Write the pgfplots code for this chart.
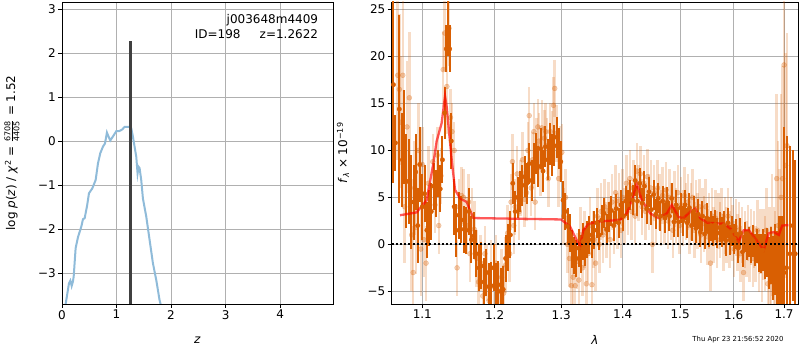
\documentclass[border=0pt]{standalone}
\usepackage{fontspec}
\setmainfont{DejaVu Sans}
\usepackage{amsmath}
\usepackage{pgfplots}
\usepackage{pgfplotstable}
\pgfplotsset{compat=1.18}
\definecolor{dorange}{RGB}{217,95,2}
\definecolor{pzblue}{RGB}{143,187,217}
\definecolor{gridgray}{RGB}{176,176,176}
\definecolor{vline}{RGB}{64,64,64}

\pgfplotstableread{
z y
0.050 -3.85
0.067 -3.70
0.128 -3.23
0.153 -3.17
0.177 -3.29
0.200 -3.19
0.214 -3.08
0.250 -2.43
0.293 -2.18
0.354 -1.94
0.385 -1.77
0.415 -1.75
0.458 -1.48
0.495 -1.18
0.556 -1.07
0.617 -0.88
0.660 -0.50
0.702 -0.27
0.751 -0.12
0.788 -0.05
0.824 0.20
0.843 0.14
0.885 0.02
0.934 0.11
0.995 0.23
1.044 0.23
1.105 0.27
1.148 0.33
1.227 0.33
1.270 0.30
1.300 0.11
1.331 -0.12
1.362 -0.35
1.386 -0.73
1.405 -0.58
1.423 -0.61
1.453 -0.88
1.484 -1.30
1.545 -1.71
1.606 -2.24
1.667 -2.77
1.728 -3.15
1.789 -3.61
1.807 -3.70
1.820 -3.85
}\pzdata

\pgfplotstableread{
x y e
1.0625 17.0 10.5
1.0650 10.8 3
1.0700 14.4 10
1.0740 9.0 5
1.0760 11.4 5
1.0790 6.7 5
1.0821 6.7 4.5
1.0855 4.5 5
1.0890 4.5 4
1.0913 7.7 4
1.0940 2.0 4
1.0966 8.5 4
1.1000 4.0 3.5
1.1030 5.4 3
1.1060 1.5 3
1.1090 2.8 3
1.1120 3.5 3
1.1150 6.2 2.5
1.1180 5.4 2.5
1.1210 7.5 2.5
1.1240 5.9 2.5
1.1270 9.0 2.5
1.1300 14.0 2.8
1.1322 20.8 2.5
1.1345 23.0 3
1.1368 20.8 2.5
1.1390 11.0 3
1.1430 4.0 3
1.1460 1.5 2.8
1.1495 3.1 2.5
1.1530 2.6 2.5
1.1566 1.6 2.5
1.1600 1.5 2.5
1.1635 3.5 2.5
1.1670 0.5 2.5
1.1705 0.9 2.5
1.1740 -1.0 2.5
1.1775 -2.5 2.5
1.1810 -2.3 2.5
1.1845 -4.0 2.5
1.1880 -3.0 2.5
1.1915 -4.5 2.5
1.1950 -4.4 2.5
1.1985 -2.5 2.5
1.2020 -4.5 2.5
1.2055 -4.3 2.5
1.2090 -5.0 2.5
1.2125 -4.8 2.5
1.2160 -1.5 2.5
1.2195 -0.3 2.5
1.2230 1.0 2.5
1.2265 6.5 2.2
1.2300 3.5 2.2
1.2335 5.0 2.2
1.2370 5.6 2.2
1.2405 6.3 2.2
1.2440 7.2 2.2
1.2475 6.5 2.2
1.2510 8.6 2.2
1.2545 6.8 2.2
1.2580 8.6 2.2
1.2615 9.7 2.2
1.2650 8.3 2.2
1.2685 10.2 2.2
1.2720 7.8 2.2
1.2755 10.4 2.2
1.2790 9.0 2.2
1.2825 10.7 2.2
1.2860 9.5 2.2
1.2895 10.5 2.2
1.2930 11.4 2.2
1.2965 10.2 2.2
1.2995 8.8 2.2
1.3030 4.7 2
1.3065 3.5 2
1.3100 1.9 2
1.3135 1.2 2
1.3170 -0.5 2
1.3205 -1.2 2
1.3240 -1.5 2
1.3275 -0.4 2
1.3310 -1.0 2
1.3345 0.3 2
1.3380 -0.3 2
1.3415 0.5 2
1.3450 1.0 2
1.3490 0.5 2
1.3530 1.5 2
1.3570 2.3 1.6
1.3610 1.0 1.6
1.3650 2.6 1.6
1.3690 3.3 1.6
1.3730 1.6 1.6
1.3770 2.9 1.6
1.3810 3.6 1.6
1.3850 2.0 1.6
1.3890 3.8 1.6
1.3930 2.3 1.6
1.3970 4.2 1.6
1.4010 3.0 1.6
1.4050 4.6 1.6
1.4090 4.2 1.6
1.4130 5.3 1.6
1.4170 4.7 1.6
1.4210 6.8 1.6
1.4250 4.6 1.6
1.4290 6.5 1.6
1.4330 4.4 1.6
1.4370 6.2 1.6
1.4410 3.8 1.6
1.4450 5.6 1.6
1.4490 3.7 1.6
1.4530 5.3 1.6
1.4570 3.2 1.6
1.4610 4.9 1.6
1.4650 3.0 1.6
1.4690 4.6 1.6
1.4730 2.8 1.6
1.4770 4.5 1.6
1.4810 3.0 1.6
1.4850 4.9 1.6
1.4890 2.4 1.6
1.4930 4.2 1.6
1.4970 2.4 1.6
1.5010 3.9 1.6
1.5050 2.5 1.6
1.5090 4.2 1.6
1.5130 2.3 1.6
1.5170 3.9 1.6
1.5210 2.0 1.6
1.5250 3.5 1.6
1.5290 1.7 1.6
1.5330 3.2 1.6
1.5370 1.3 1.6
1.5410 3.0 1.6
1.5450 1.1 1.6
1.5490 2.8 1.6
1.5530 1.3 1.6
1.5570 2.0 1.6
1.5610 1.4 1.6
1.5650 2.1 1.6
1.5690 1.2 1.6
1.5730 1.8 1.6
1.5770 1.3 1.6
1.5810 2.0 1.6
1.5850 0.4 1.6
1.5890 2.3 1.6
1.5930 0.5 1.6
1.5970 1.4 1.6
1.6010 0.6 1.6
1.6050 1.1 1.6
1.6090 -0.4 1.6
1.6130 1.2 1.6
1.6170 -0.8 1.6
1.6210 0.8 1.6
1.6250 -0.1 1.6
1.6290 0.3 1.6
1.6330 -0.4 1.6
1.6370 0.4 1.7
1.6410 -0.6 1.7
1.6450 -0.2 1.8
1.6490 -0.9 2
1.6530 -1.0 2.1
1.6570 -0.6 2.2
1.6610 -1.3 2.4
1.6650 -0.9 2.6
1.6690 -2.0 2.8
1.6730 -1.2 3
1.6770 -2.5 3.4
1.6810 -1.6 3.8
1.6850 -3.0 4.4
1.6890 -2.0 5
1.6930 -3.5 6.5
1.6965 -5.0 8
1.7000 -3.0 15.5
1.7050 -2.5 14
1.7120 -1.0 11.5
1.7180 2.0 8
1.7230 -1.0 10
}\darkdata

\pgfplotstableread{
x y e
1.0680 18.0 9
1.0700 16.5 8
1.0720 13.0 7
1.0745 18.0 8
1.0770 4.0 6
1.0800 12.5 7
1.0830 15.6 7
1.0860 1.0 6
1.0880 -3.0 5
1.0900 6.0 5
1.0920 1.8 5
1.0950 10.0 5
1.0980 -0.5 5
1.1000 8.5 4
1.1020 0.5 4
1.1050 -2.0 4
1.1080 6.5 4
1.1110 3.5 3
1.1140 8.8 3
1.1170 4.2 3
1.1200 9.5 3
1.1220 2.0 3
1.1250 7.3 3
1.1280 18.6 4
1.1300 22.5 4
1.1330 16.8 5
1.1360 23.0 4
1.1380 13.5 3
1.1400 12.0 3
1.1430 10.0 3
1.1470 -2.5 3
1.1500 4.0 3
1.1530 5.2 3
1.1560 5.0 3
1.1600 2.0 3
1.1630 4.5 3
1.1650 -1.0 3
1.1680 3.0 3
1.1710 1.6 3
1.1740 -1.5 3
1.1770 -4.0 3
1.1800 -2.0 3
1.1830 -5.5 3
1.1860 -1.0 3
1.1890 -3.0 3
1.1920 -6.0 3
1.1950 -2.5 3
1.1990 -4.5 3
1.2020 -2.0 3
1.2060 -5.0 3
1.2100 -3.5 3
1.2130 -5.2 3
1.2160 -2.2 3
1.2190 1.2 3
1.2220 -1.0 3
1.2240 4.5 3
1.2260 8.8 3
1.2280 2.0 3
1.2300 4.0 3
1.2330 7.5 3
1.2360 3.5 3
1.2380 6.0 3
1.2410 9.0 3
1.2440 4.8 3
1.2470 5.5 3
1.2490 10.0 3
1.2510 13.7 3
1.2540 6.0 3
1.2560 9.0 3
1.2580 12.0 3
1.2600 4.5 3
1.2620 10.5 3
1.2640 12.5 3
1.2660 11.0 3
1.2680 8.2 3
1.2700 12.4 3
1.2720 9.5 3
1.2740 11.3 3
1.2760 12.0 3
1.2780 10.5 3
1.2800 7.0 3
1.2830 12.0 3
1.2860 11.2 3
1.2880 14.8 3
1.2900 16.6 3
1.2930 11.8 3
1.2960 7.0 3
1.2980 9.6 3
1.3010 9.8 3
1.3040 3.0 3
1.3070 5.0 3
1.3100 0.0 3
1.3130 -1.5 3
1.3160 -4.4 3
1.3190 -3.5 3
1.3220 -4.4 3
1.3250 -1.8 3
1.3280 -3.8 3
1.3310 1.0 3
1.3340 -2.5 3
1.3370 0.5 3
1.3400 -4.2 3
1.3430 -1.0 3
1.3460 2.0 3
1.3490 -4.3 3
1.3520 0.5 3
1.3550 -2.0 3
1.3580 3.0 3
1.3610 0.0 3
1.3640 3.5 3
1.3670 1.0 3
1.3700 4.0 3
1.3730 1.5 3
1.3760 3.6 3
1.3790 0.5 3
1.3820 4.5 3
1.3850 2.0 3
1.3880 5.5 3
1.3910 2.5 3
1.3940 4.6 3
1.3970 1.5 3
1.4000 5.0 3
1.4030 3.0 3
1.4060 6.5 3
1.4090 4.0 3
1.4120 7.0 3
1.4150 3.5 3
1.4180 6.0 3
1.4210 3.0 3
1.4240 7.8 3
1.4270 5.5 3
1.4300 7.5 3
1.4330 4.0 3
1.4360 6.5 3
1.4390 3.5 3
1.4420 7.2 3
1.4450 4.5 3
1.4480 6.0 3
1.4510 0.0 3
1.4540 5.5 3
1.4570 3.0 3
1.4600 6.0 3
1.4630 4.5 3
1.4660 2.8 3
1.4690 5.2 3
1.4720 3.0 3
1.4750 5.8 3
1.4780 2.5 3
1.4810 5.0 3
1.4840 3.5 3
1.4870 1.5 3
1.4900 4.8 3
1.4930 3.0 3
1.4960 5.5 3
1.4990 2.0 3
1.5020 4.2 3
1.5050 2.8 3
1.5080 5.2 3
1.5110 3.5 3
1.5140 4.5 3
1.5170 2.0 3
1.5200 3.5 3
1.5230 5.0 3
1.5260 1.5 3
1.5290 3.8 3
1.5320 2.5 3
1.5350 4.0 3
1.5380 1.0 3
1.5410 3.0 3
1.5440 2.2 3
1.5470 4.0 3
1.5500 0.8 3
1.5530 2.5 3
1.5560 -2.0 3
1.5590 3.0 3
1.5620 1.0 3
1.5650 2.8 3
1.5680 0.5 3
1.5710 2.5 3
1.5740 1.5 3
1.5770 3.0 3
1.5800 0.2 3
1.5830 2.0 3
1.5860 1.0 3
1.5890 3.0 3
1.5920 0.5 3
1.5950 2.0 3
1.5980 1.2 3
1.6010 -0.5 3
1.6040 1.8 3
1.6070 0.2 3
1.6100 1.5 3
1.6130 -1.0 3
1.6160 1.0 3
1.6190 -3.0 3
1.6220 0.5 3
1.6250 -0.5 3
1.6280 1.2 3
1.6310 -1.0 3
1.6340 0.8 3
1.6370 -1.5 3
1.6400 0.5 3
1.6430 -1.0 3
1.6460 1.5 3.2
1.6490 -1.8 3.3
1.6520 0.3 3.5
1.6550 -2.5 3.6
1.6580 0.0 3.8
1.6610 -1.0 4
1.6640 1.5 4.5
1.6670 -4.2 5
1.6700 -1.5 5.5
1.6730 -4.0 6
1.6760 1.0 6.5
1.6790 -3.0 7
1.6820 -4.5 8
1.6850 7.0 9
1.6880 2.0 9
1.6910 -2.0 10
1.6940 5.0 11
1.6970 7.0 12
1.7000 19.1 14
1.7030 8.4 12
1.7060 10.5 12
}\lightdata

\pgfplotstableread{
x y
1.0709 3.1
1.0925 3.4
1.1058 4.7
1.1147 8.6
1.1192 11.0
1.1259 12.9
1.1305 15.8
1.1328 14.6
1.1396 9.0
1.1442 5.8
1.1511 4.9
1.1604 4.5
1.1651 3.6
1.1698 2.8
1.2998 2.65
1.3140 1.9
1.3245 0.45
1.3298 -0.25
1.3351 1.5
1.3432 2.15
1.3568 2.4
1.3733 2.5
1.3955 2.6
1.4068 3.3
1.4154 4.7
1.4239 6.5
1.4325 4.7
1.4470 3.3
1.4616 2.8
1.4764 3.3
1.4853 4.2
1.4973 2.9
1.5063 2.8
1.5185 3.5
1.5277 3.8
1.5369 2.8
1.5493 2.3
1.5807 2.2
1.5935 1.7
1.6096 0.3
1.6194 1.5
1.6292 1.5
1.6424 0.6
1.6589 -0.6
1.6689 1.2
1.6791 1.3
1.6892 1.0
1.6961 2.0
1.7089 2.05
}\modeldata

\begin{document}
\begin{tikzpicture}
\path[use as bounding box] (0pt,0pt) rectangle (800pt,350pt);
\pgfplotsset{
  every axis/.append style={
    scale only axis,
    font=\fontsize{12}{14}\selectfont,
    axis line style={line width=0.8pt},
    tick style={black, line width=0.8pt},
    major tick length=4pt,
    tick align=outside,
    xtick pos=bottom, ytick pos=left,
    grid=major,
    major grid style={gridgray, line width=0.8pt},
    xticklabel style={inner sep=2pt},
    yticklabel style={inner sep=2pt},
  }
}
% Left panel
\begin{axis}[
  at={(62pt,46pt)}, anchor=south west,
  width=271pt, height=302pt,
  xmin=0, xmax=4.97, ymin=-3.7, ymax=3.17,
  xtick={0,1,2,3,4}, xticklabels={0,1,2,3,4},
  ytick={-3,-2,-1,0,1,2,3}, yticklabels={−3,−2,−1,0,1,2,3},
  xlabel={\textit{z}},
  xlabel style={at={(axis description cs:0.5,-0.119)}, anchor=center},
  ylabel={log \textit{p}(\textit{z}) / \textit{χ}\textsuperscript{2} = $\frac{\text{6708}}{\text{4405}}$ = 1.52},
  ylabel style={at={(axis description cs:-0.1845,0.5)}, anchor=center, rotate=0},
]
\addplot[pzblue, line width=2pt] table[x=z, y=y] {\pzdata};
\addplot[vline, line width=3pt] coordinates {(1.2622,-3.8) (1.2622,2.29)};
\node[anchor=east, inner sep=0pt] at (axis cs:4.70,2.75) {j003648m4409};
\node[anchor=east, inner sep=0pt] at (axis cs:4.70,2.43) {ID=198\hspace{1.6em}z=1.2622};
\end{axis}
% Right panel
\begin{axis}[
  at={(391.5pt,46pt)}, anchor=south west,
  width=407pt, height=302pt,
  xmode=log,
  xmin=1.06, xmax=1.7297, ymin=-6.35, ymax=25.8,
  xtick={1.1,1.2,1.3,1.4,1.5,1.6,1.7},
  xticklabels={1.1,1.2,1.3,1.4,1.5,1.6,1.7},
  minor xtick={},
  ytick={-5,0,5,10,15,20,25}, yticklabels={−5,0,5,10,15,20,25},
  xlabel={\textit{λ}},
  xlabel style={at={(axis description cs:0.5,-0.119)}, anchor=center},
  ylabel={\textit{f}\textsubscript{\textit{λ}} × 10\textsuperscript{−19}},
  ylabel style={at={(axis description cs:-0.119,0.5)}, anchor=center},
]
\addplot[color=dorange, only marks, mark=*, mark size=2.5pt,
  mark options={draw=none, fill=dorange, opacity=0.3},
  error bars/.cd, y dir=both, y explicit, error mark=none,
  error bar style={line width=2.5pt, dorange, opacity=0.22}]
  table[x=x, y=y, y error=e] {\lightdata};
\addplot[color=dorange, only marks, mark=*, mark size=2.2pt,
  mark options={draw=dorange, fill=dorange},
  error bars/.cd, y dir=both, y explicit, error mark=none,
  error bar style={line width=2pt, dorange}]
  table[x=x, y=y, y error=e] {\darkdata};
\addplot[red, opacity=0.65, line width=2.3pt] table[x=x, y=y] {\modeldata};
\addplot[black, line width=2pt, dash pattern=on 2pt off 2.2pt] coordinates {(1.06,0) (1.7297,0)};
\end{axis}
\node[anchor=east, font=\fontsize{6.9}{8}\selectfont] at (787pt,10pt) {Thu Apr 23 21:56:52 2020};
\end{tikzpicture}
\end{document}
